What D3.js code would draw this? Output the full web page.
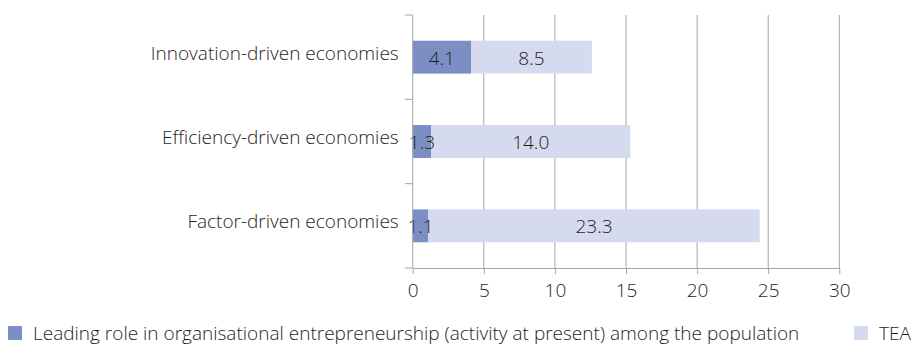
<!DOCTYPE html>
<html>
<head>
<meta charset="utf-8">
<script src="https://cdn.jsdelivr.net/npm/d3@7"></script>
<style>
  html, body { margin: 0; padding: 0; background: #fff; overflow: hidden; }
  svg { display: block; font-family: "Open Sans", "Noto Sans", sans-serif; font-weight: 300; }
</style>
</head>
<body>
<svg id="chart" width="912" height="345"></svg>
<script>
// Economy groups, top to bottom
const categories = ["Innovation-driven economies", "Efficiency-driven economies", "Factor-driven economies"];
// Share of adult population (%)
const leadingRole = [4.1, 1.3, 1.1];
const tea = [8.5, 14.0, 23.3];
const seriesNames = ["Leading role in organisational entrepreneurship (activity at present) among the population", "TEA"];
const xTicks = [0, 5, 10, 15, 20, 25, 30];

const colors = ["#7b8fc4", "#d5daef"];
const textColor = "#1e1e1e";
const fontSize = 19;

const svg = d3.select("#chart");
const margin = { left: 412.7, right: 72.7, top: 15, bottom: 77 };
const W = 912, H = 345;

const x = d3.scaleLinear().domain([0, 30]).range([margin.left, W - margin.right]);
const y = d3.scaleBand().domain(categories).range([margin.top, H - margin.bottom]).paddingInner(0.61).paddingOuter(0.305);
const yOuter = d3.scaleBand().domain(categories).range([margin.top, H - margin.bottom]);

const rows = categories.map((c, i) => ({ cat: c, vals: [leadingRole[i], tea[i]] }));
const stacked = d3.stack().keys([0, 1]).value((d, k) => d.vals[k])(rows);

// Vertical gridlines
svg.append("g").selectAll("line").data(xTicks.slice(1)).join("line")
  .attr("x1", d => x(d)).attr("x2", d => x(d))
  .attr("y1", margin.top).attr("y2", H - margin.bottom)
  .attr("stroke", "#a6a6a6").attr("stroke-width", 1);

// Stacked bars
const layers = svg.append("g").selectAll("g").data(stacked).join("g")
  .attr("fill", (d, i) => colors[i]);
layers.selectAll("rect").data(d => d).join("rect")
  .attr("x", d => x(d[0]))
  .attr("width", d => x(d[1]) - x(d[0]))
  .attr("y", d => y(d.data.cat))
  .attr("height", y.bandwidth());

// Value labels
svg.append("g").selectAll("g").data(stacked).join("g")
  .selectAll("text").data((layer) => layer.map(d => ({ d, k: layer.key }))).join("text")
  .attr("x", o => (x(o.d[0]) + x(o.d[1])) / 2)
  .attr("y", o => y(o.d.data.cat) + y.bandwidth() / 2 + 1)
  .attr("dy", "0.35em")
  .attr("text-anchor", "middle")
  .attr("font-size", fontSize)
  .attr("fill", textColor)
  .text(o => o.d.data.vals[o.k].toFixed(1));

// X axis
const xAxis = svg.append("g")
  .attr("transform", `translate(0,${H - margin.bottom})`)
  .call(d3.axisBottom(x).tickValues(xTicks).tickSize(6).tickSizeOuter(0));
xAxis.select(".domain").attr("stroke", "#a6a6a6");
xAxis.selectAll(".tick line").attr("stroke", "#a6a6a6");
xAxis.selectAll(".tick text").attr("font-size", fontSize).attr("font-family", "Open Sans").attr("font-weight", 300)
  .attr("fill", textColor).attr("y", 22).attr("dy", "0.35em");

// Y axis: ticks at category boundaries
const yAxisG = svg.append("g");
yAxisG.append("line")
  .attr("x1", x(0)).attr("x2", x(0))
  .attr("y1", margin.top).attr("y2", H - margin.bottom)
  .attr("stroke", "#a6a6a6");
const bounds = categories.map(c => yOuter(c)).concat([H - margin.bottom]);
yAxisG.selectAll(".bt").data(bounds).join("line")
  .attr("x1", x(0) - 8).attr("x2", x(0))
  .attr("y1", d => d).attr("y2", d => d)
  .attr("stroke", "#a6a6a6");
yAxisG.selectAll("text").data(categories).join("text")
  .attr("x", x(0) - 14)
  .attr("y", d => y(d) + y.bandwidth() / 2 - 4)
  .attr("dy", "0.35em")
  .attr("text-anchor", "end")
  .attr("font-size", fontSize)
  .attr("fill", textColor)
  .text(d => d);

// Legend
const legend = svg.append("g");
const legendItems = [{ x: 8, name: seriesNames[0], color: colors[0] }, { x: 854, name: seriesNames[1], color: colors[1] }];
const li = legend.selectAll("g").data(legendItems).join("g")
  .attr("transform", d => `translate(${d.x},326)`);
li.append("rect").attr("width", 14).attr("height", 14).attr("fill", d => d.color);
li.append("text").attr("x", 25).attr("y", 7).attr("dy", "0.35em")
  .attr("font-size", fontSize).attr("fill", textColor).text(d => d.name);
</script>
</body>
</html>
